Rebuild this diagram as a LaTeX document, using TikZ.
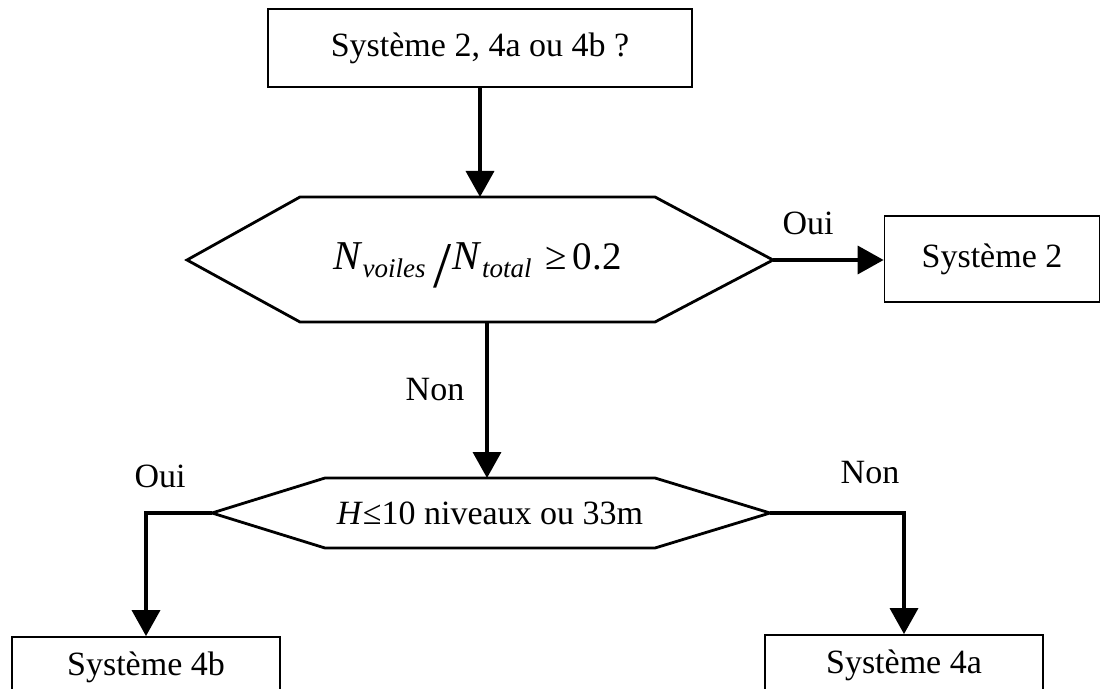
\documentclass[tikz,border=0pt]{standalone}
\usepackage{fontspec}
\usepackage{graphicx}
\setmainfont{Liberation Serif}
\usetikzlibrary{arrows.meta, positioning, calc}

\begin{document}
\begin{tikzpicture}[x=0.5pt, y=-0.5pt,
  box/.style={rectangle, draw, line width=0.9pt, inner sep=0pt, font=\fontsize{17}{20}\selectfont},
  hexa/.style={draw, line width=1.4pt, line join=miter},
  txt/.style={inner sep=0pt, font=\fontsize{17}{20}\selectfont},
  arrow/.style={-{Triangle[length=13pt,width=14pt]}, line width=1.8pt}
]
  \useasboundingbox (0,0) rectangle (1107,689);

  % boxes
  \node[box, minimum width=212pt, minimum height=39pt] (start) at (480,48) {Système 2, 4a ou 4b ?};
  \node[box, minimum width=107.5pt, minimum height=43pt] (sys2) at (992,259) {Système 2};
  \node[box, minimum width=134pt, minimum height=30pt] (sys4b) at (146,667) {Système 4b};
  \node[box, minimum width=139pt, minimum height=30pt] (sys4a) at (904,665) {Système 4a};

  % first test
  \coordinate (c1w) at (187,260);
  \coordinate (c1n) at (480,197);
  \coordinate (c1e) at (773,260);
  \coordinate (c1s) at (487,322);
  \draw[hexa] (c1w) -- (300,197) -- (655,197) -- (c1e) -- (655,322) -- (300,322) -- cycle;
  \node[txt, font=\fontsize{20.5}{24}\selectfont, anchor=base west] (ratio) at (333,270)
    {\textit{N}\raisebox{-4pt}{\fontsize{13.5}{14}\selectfont\itshape voiles}\hspace{4pt}\raisebox{-9pt}{\resizebox{!}{21.5pt}{/}}\hspace{0.5pt}\textit{N}\raisebox{-4pt}{\fontsize{13.5}{14}\selectfont\itshape total}\hspace{7pt}{\fontsize{19.5}{20}\selectfont≥\hspace{3pt}0.2}};

  % second test
  \coordinate (c2w) at (212,513);
  \coordinate (c2n) at (487,478);
  \coordinate (c2e) at (770,513);
  \draw[hexa] (c2w) -- (325,478) -- (655,478) -- (c2e) -- (655,548) -- (325,548) -- cycle;
  \node[txt] (height) at (490,513) {\textit{H}≤10 niveaux ou 33m};

  \coordinate (left) at (146,513);
  \coordinate (right) at (904,513);

  % connectors
  \draw[arrow] (start.south -| c1n) -- (c1n);
  \draw[arrow] (c1e) -- (sys2.west |- c1e);
  \draw[arrow] (c1s) -- (c2n);
  \draw[arrow, line join=miter] (c2w) -- (left) -- (sys4b.north);
  \draw[arrow, line join=miter] (c2e) -- (right) -- (sys4a.north);

  % labels
  \node[txt] (oui1) at (808,223) {Oui};
  \node[txt] (non1) at (435,390) {Non};
  \node[txt] (oui2) at (160,476) {Oui};
  \node[txt] (non2) at (870,473) {Non};
\end{tikzpicture}
\end{document}
